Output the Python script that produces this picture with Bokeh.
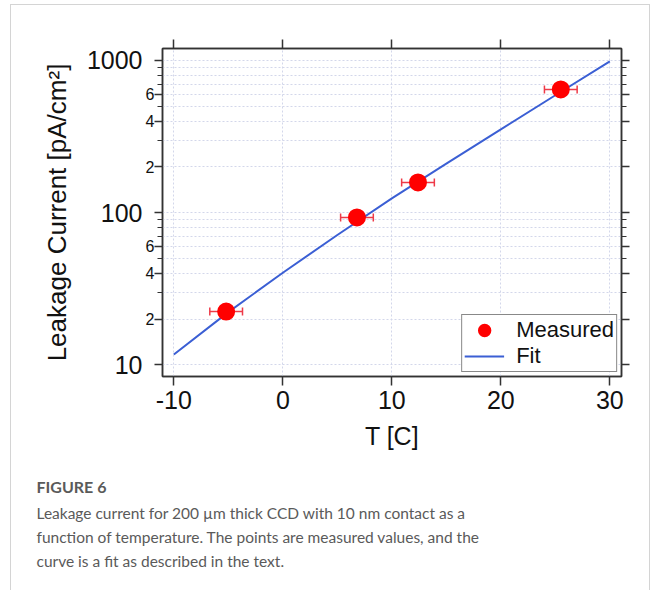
from bokeh.plotting import figure
from bokeh.models import (ColumnDataSource, Whisker, TeeHead, FixedTicker, LinearAxis, LogAxis,
                          Legend, LegendItem, Title, Range1d, CustomJSTickFormatter)
from bokeh.embed import file_html
from bokeh.resources import INLINE

# ---- data ----
temp_c = [-5.2, 6.8, 12.4, 25.5]
current = [22.4, 93.0, 158.0, 645.0]
temp_err = [1.5, 1.5, 1.5, 1.5]
fit_temp = [-10, -5, 0, 5, 10, 15, 20, 25, 30]
fit_current = [11.7, 22.2, 40.3, 71.3, 124.0, 210.0, 353.0, 591.0, 988.0]

x_ticks = [-10, 0, 10, 20, 30]
x_tick_labels = ["-10", "0", "10", "20", "30"]
y_major = [10, 100, 1000]
y_major_labels = ["10", "100", "1000"]
y_minor_labeled = [20, 40, 60, 200, 400, 600]
y_minor_labels = ["2", "4", "6", "2", "4", "6"]
y_minor_other = [30, 50, 70, 80, 90, 300, 500, 700, 800, 900]

caption_title = "FIGURE 6"
caption_lines = [
    "Leakage current for 200 \u00b5m thick CCD with 10 nm contact as a",
    "function of temperature. The points are measured values, and the",
    "curve is a fit as described in the text.",
]

FONT = "Liberation Sans"
CAP_FONT = "Lato"
AX = "#333333"
TXT = "#111111"
FRAME_GRAY = "#d4d4d4"

x_lo, x_hi = -11.04, 31.07
y_lo, y_hi = 8.38, 1199.0

p = figure(width=650, height=590, output_backend="svg", toolbar_location=None,
           y_axis_type="log", x_range=Range1d(x_lo, x_hi), y_range=Range1d(y_lo, y_hi),
           min_border_left=162, min_border_right=29, min_border_top=48, min_border_bottom=214,
           background_fill_color="white", border_fill_color=None)
p.outline_line_color = AX
p.outline_line_width = 1.5
# light outer frame of the figure panel (left, top, right edges), drawn behind the canvas
g = f"linear-gradient({FRAME_GRAY},{FRAME_GRAY})"
p.styles = {
    "background": (f"{g} 10px 4px / 1px 600px no-repeat, "
                   f"{g} 10px 4px / 640px 1px no-repeat, "
                   f"{g} 649px 4px / 1px 600px no-repeat, white"),
}

x_ticker = FixedTicker(ticks=x_ticks, minor_ticks=[])
y_ticker_all = FixedTicker(ticks=y_major + y_minor_labeled, minor_ticks=y_minor_other)
y_ticker_major = FixedTicker(ticks=y_major, minor_ticks=[])


def style_axis(ax):
    ax.axis_line_color = AX
    ax.axis_line_width = 1.5
    ax.major_tick_line_color = AX
    ax.major_tick_line_width = 1.5
    ax.minor_tick_line_color = AX
    ax.minor_tick_line_width = 1.2
    ax.major_tick_in = 0
    ax.major_tick_out = 8
    ax.minor_tick_in = 0
    ax.minor_tick_out = 5
    ax.major_label_text_font = FONT
    ax.major_label_text_font_size = "25px"
    ax.major_label_text_color = TXT
    ax.axis_label_text_font = FONT
    ax.axis_label_text_font_style = "normal"
    ax.axis_label_text_color = TXT


# bottom axis
xa = p.xaxis[0]
xa.ticker = x_ticker
style_axis(xa)
xa.major_tick_out = 9
xa.major_label_overrides = {v: t for v, t in zip(x_ticks, x_tick_labels)}
xa.axis_label = "T [C]"
xa.axis_label_text_font_size = "25px"
xa.major_label_standoff = 5
xa.axis_label_standoff = 10

# inner left axis: ticks + small "2 4 6" labels
ya = p.yaxis[0]
ya.ticker = y_ticker_all
style_axis(ya)
inner_labels = {v: "" for v in y_major}
inner_labels.update({v: t for v, t in zip(y_minor_labeled, y_minor_labels)})
ya.major_label_overrides = inner_labels
ya.major_label_text_font_size = "16px"
ya.major_label_standoff = 0

# outer left axis: decade labels and the axis title
outer = LogAxis(ticker=y_ticker_major)
style_axis(outer)
outer.axis_line_color = None
outer.major_tick_line_color = None
outer.major_tick_out = 0
outer.major_label_overrides = {v: t for v, t in zip(y_major, y_major_labels)}
outer.major_label_standoff = 0
outer.axis_label = "Leakage Current [pA/cm\u00b2]"
outer.axis_label_text_font_size = "26px"
outer.axis_label_standoff = 12
p.add_layout(outer, "left")

top_ax = LinearAxis(ticker=x_ticker, formatter=CustomJSTickFormatter(code="return '';"))
style_axis(top_ax)
top_ax.major_tick_out = 9
p.add_layout(top_ax, "above")

right_ax = LogAxis(ticker=y_ticker_all, formatter=CustomJSTickFormatter(code="return '';"))
style_axis(right_ax)
p.add_layout(right_ax, "right")

# grids: dotted
p.xgrid.ticker = x_ticker
p.ygrid.ticker = y_ticker_all
for gr in (p.xgrid[0], p.ygrid[0]):
    gr.grid_line_color = "#d3d7ea"
    gr.grid_line_dash = "2 2"
    gr.grid_line_width = 1
p.ygrid[0].minor_grid_line_color = "#d3d7ea"
p.ygrid[0].minor_grid_line_dash = "2 2"
p.ygrid[0].minor_grid_line_width = 1

# data
src = ColumnDataSource(dict(
    t=temp_c, i=current,
    lo=[t - e for t, e in zip(temp_c, temp_err)],
    hi=[t + e for t, e in zip(temp_c, temp_err)],
))
fit_line = p.line(fit_temp, fit_current, line_color="#3b5fd4", line_width=2)
p.add_layout(Whisker(source=src, base="i", lower="lo", upper="hi", dimension="width",
                     line_color="#ee3a48", line_width=1.5,
                     lower_head=TeeHead(size=8, line_color="#ee3a48", line_width=1.5),
                     upper_head=TeeHead(size=8, line_color="#ee3a48", line_width=1.5)))
pts = p.scatter("t", "i", source=src, size=15, fill_color="#ff0000",
                line_color="#ff0000", line_width=3)

legend = Legend(items=[LegendItem(label="Measured", renderers=[pts]),
                       LegendItem(label="Fit", renderers=[fit_line])],
                location="bottom_right", margin=4, padding=2, spacing=-2,
                glyph_width=40, glyph_height=26, label_height=22, label_standoff=12,
                label_text_font=FONT, label_text_font_size="22px", label_text_color=TXT,
                border_line_color=TXT, border_line_width=1.5,
                background_fill_color="white", background_fill_alpha=1)
p.add_layout(legend)

# caption as titles below the axis
p.add_layout(Title(text=caption_title, align="left", offset=-126, standoff=45,
                   text_font=CAP_FONT, text_font_size="16px", text_font_style="bold",
                   text_color="#5a5a5a"), "below")
p.add_layout(Title(text="\n".join(caption_lines), align="left", offset=-126, standoff=-33,
                   text_font=CAP_FONT, text_font_size="15.5px", text_font_style="normal",
                   text_line_height=1.32, text_color="#5a5a5a"), "below")

open("out.html", "w").write(file_html(p, INLINE))
